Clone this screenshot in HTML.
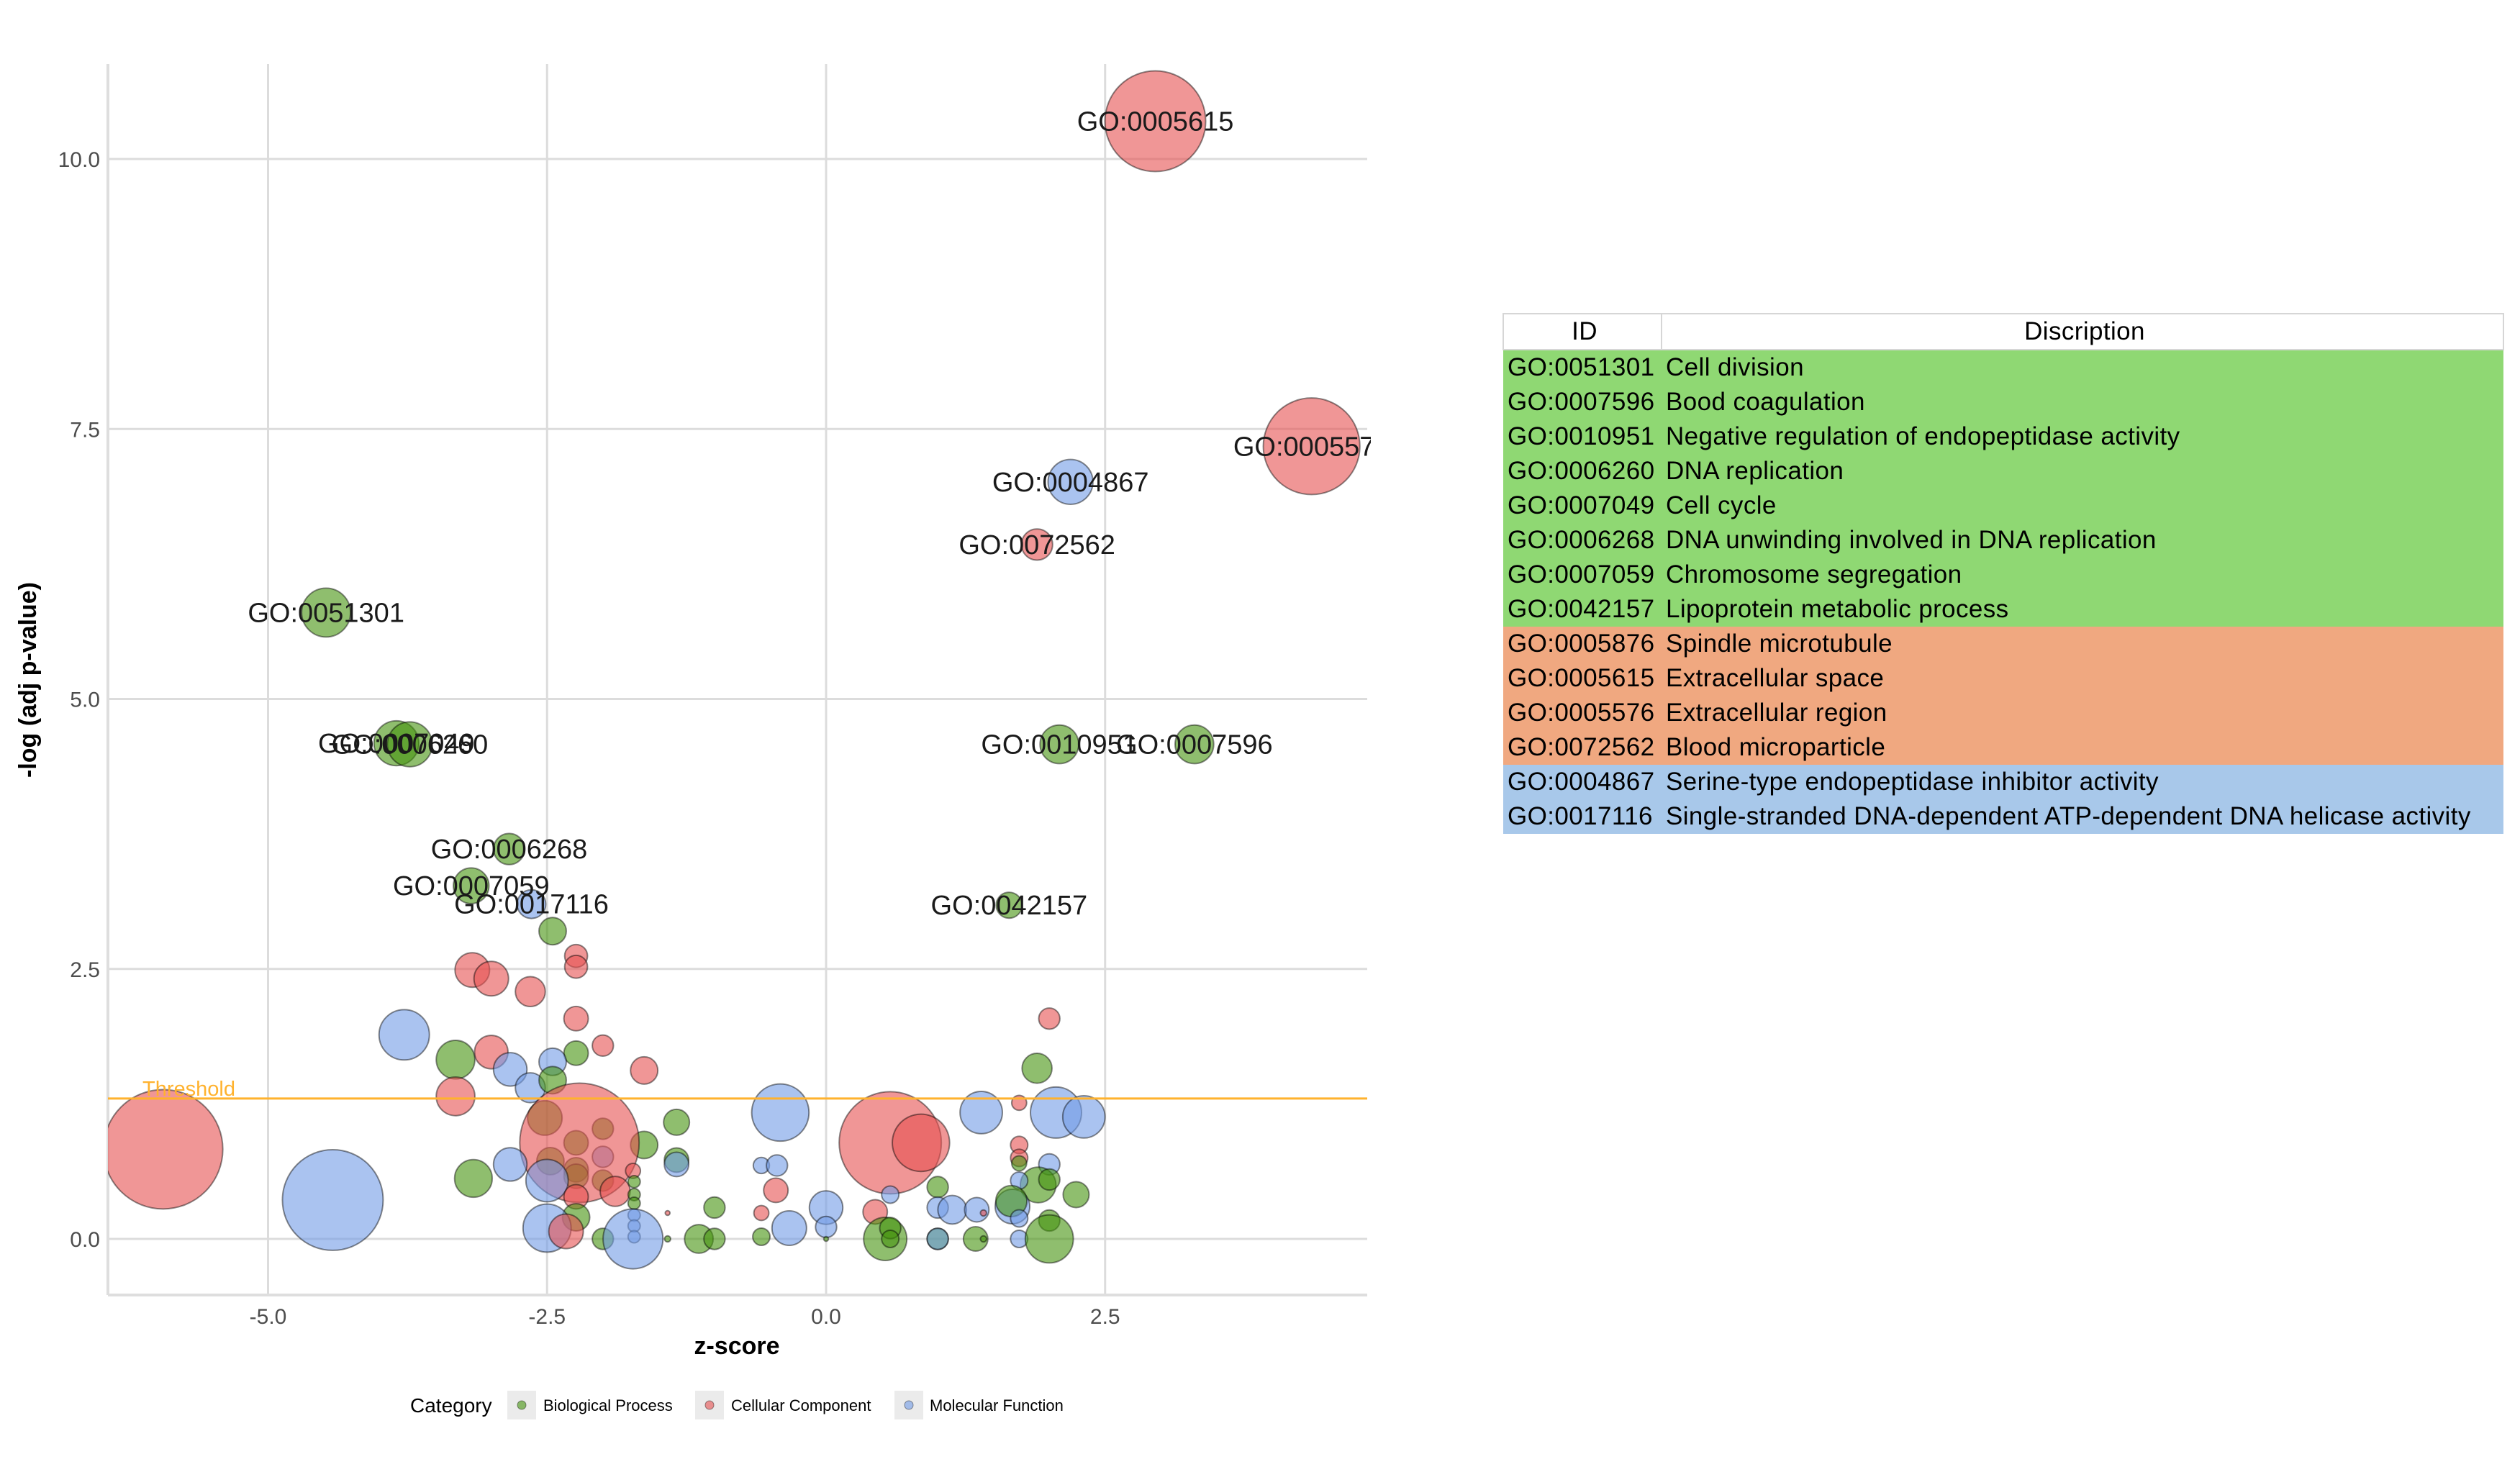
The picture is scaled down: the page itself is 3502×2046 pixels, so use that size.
<!DOCTYPE html>
<html><head><meta charset="utf-8">
<style>
html,body{margin:0;padding:0;background:#fff;}
body{width:3502px;height:2046px;position:relative;overflow:hidden;font-family:"Liberation Sans",sans-serif;}
#chart{position:absolute;left:0;top:0;}
#go-table{position:absolute;left:2088px;top:435px;width:1392px;border-collapse:collapse;font-family:"Liberation Sans Narrow","Liberation Sans",sans-serif;font-size:35px;letter-spacing:0.4px;color:#000;}
#go-table td,#go-table th{padding:0 0 0 6px;height:48px;line-height:48px;white-space:nowrap;text-align:left;font-weight:normal;}
#go-table th{background:#fff;border:2px solid #d6d6d6;text-align:center;height:46px;}
#go-table td.id{width:212px;}
tr.bp td{background:#8fd873;}
tr.cc td{background:#f0a880;}
tr.mf td{background:#a8c8ea;}
</style></head>
<body>
<svg id="chart" width="3502" height="2046" xmlns="http://www.w3.org/2000/svg">
  <defs><clipPath id="panel-clip"><rect x="150" y="89" width="1755" height="1711"/></clipPath></defs>
  <g id="grid"></g>
  <g id="axes"></g>
  <g clip-path="url(#panel-clip)">
    <g id="points"></g>
    <g id="labels"></g>
  </g>
  <text x="1024" y="1882" text-anchor="middle" font-size="34" font-weight="bold" fill="#000">z-score</text>
  <text transform="translate(50,945) rotate(-90)" text-anchor="middle" font-size="34" font-weight="bold" fill="#000">-log (adj p-value)</text>
  <g transform="translate(0,-5)">
    <text x="570" y="1968" font-size="28" fill="#000">Category</text>
    <rect x="705" y="1938" width="40" height="40" fill="#ebebeb"/>
    <circle cx="725" cy="1958" r="6" fill="#44930d" fill-opacity="0.6" stroke="#000" stroke-opacity="0.4"/>
    <text x="755" y="1966" font-size="22" fill="#000">Biological Process</text>
    <rect x="966" y="1938" width="40" height="40" fill="#ebebeb"/>
    <circle cx="986" cy="1958" r="6" fill="#e65050" fill-opacity="0.6" stroke="#000" stroke-opacity="0.4"/>
    <text x="1016" y="1966" font-size="22" fill="#000">Cellular Component</text>
    <rect x="1243" y="1938" width="40" height="40" fill="#ebebeb"/>
    <circle cx="1263" cy="1958" r="6" fill="#719be6" fill-opacity="0.6" stroke="#000" stroke-opacity="0.4"/>
    <text x="1292" y="1966" font-size="22" fill="#000">Molecular Function</text>
  </g>
</svg>

<table id="go-table">
  <tr><th style="width:212px">ID</th><th>Discription</th></tr>
  <tr class="bp"><td class="id">GO:0051301</td><td>Cell division</td></tr>
  <tr class="bp"><td class="id">GO:0007596</td><td>Bood coagulation</td></tr>
  <tr class="bp"><td class="id">GO:0010951</td><td>Negative regulation of endopeptidase activity</td></tr>
  <tr class="bp"><td class="id">GO:0006260</td><td>DNA replication</td></tr>
  <tr class="bp"><td class="id">GO:0007049</td><td>Cell cycle</td></tr>
  <tr class="bp"><td class="id">GO:0006268</td><td>DNA unwinding involved in DNA replication</td></tr>
  <tr class="bp"><td class="id">GO:0007059</td><td>Chromosome segregation</td></tr>
  <tr class="bp"><td class="id">GO:0042157</td><td>Lipoprotein metabolic process</td></tr>
  <tr class="cc"><td class="id">GO:0005876</td><td>Spindle microtubule</td></tr>
  <tr class="cc"><td class="id">GO:0005615</td><td>Extracellular space</td></tr>
  <tr class="cc"><td class="id">GO:0005576</td><td>Extracellular region</td></tr>
  <tr class="cc"><td class="id">GO:0072562</td><td>Blood microparticle</td></tr>
  <tr class="mf"><td class="id">GO:0004867</td><td>Serine-type endopeptidase inhibitor activity</td></tr>
  <tr class="mf"><td class="id">GO:0017116</td><td>Single-stranded DNA-dependent ATP-dependent DNA helicase activity</td></tr>
</table>

<script>
// labeled terms first (13), then unlabeled
const goLabels=["GO:0005615","GO:0005576","GO:0004867","GO:0072562","GO:0010951","GO:0007596","GO:0042157","GO:0051301","GO:0007049","GO:0006260","GO:0006268","GO:0007059","GO:0017116"];
const zScores=[2.95,4.35,2.19,1.89,2.09,3.30,1.64,-4.48,-3.85,-3.73,-2.84,-3.18,-2.64,
-5.94,-4.42,-3.78,-2.45,-2.24,-2.24,-3.17,-3.0,-2.65,-2.24,-2.0,-3.32,-3.0,-2.24,-2.45,-2.83,-1.63,-2.65,-2.45,-3.32,-2.52,-2.0,-2.24,-2.0,-2.47,-2.24,-2.24,-2.0,-1.63,-2.21,-1.34,-1.34,-1.34,-2.83,-3.16,-2.5,-1.73,-2.24,-1.89,-1.72,-1.72,-1.72,-1.72,-1.72,-1.72,-2.24,-2.5,-2.33,-2.0,-1.73,-1.42,-1.42,-1.14,-1.0,-1.0,-0.58,-0.44,-0.41,-0.45,-0.58,-0.58,-0.33,0,0,0,0.575,0.85,2.0,1.89,1.39,1.73,2.06,2.31,1.73,1.73,1.73,2.0,1.9,2.0,1.73,2.24,0.575,0.44,1.0,1.0,1.13,1.35,1.41,1.67,1.66,1.73,2.0,0.53,0.575,0.575,1.0,1.0,1.34,1.41,1.73,2.0];
const logP=[10.35,7.34,7.01,6.43,4.58,4.58,3.09,5.80,4.59,4.58,3.61,3.27,3.10,
0.83,0.36,1.89,2.85,2.62,2.52,2.49,2.41,2.29,2.04,1.79,1.66,1.73,1.72,1.64,1.57,1.56,1.40,1.47,1.32,1.12,1.02,0.89,0.76,0.72,0.64,0.58,0.54,0.87,0.89,1.08,0.73,0.69,0.69,0.56,0.54,0.63,0.39,0.44,0.53,0.41,0.33,0.22,0.12,0.02,0.20,0.10,0.07,0,0,0,0.24,0,0,0.29,0.68,0.68,1.17,0.45,0.24,0.02,0.10,0.29,0.11,0,0.89,0.89,2.04,1.58,1.17,1.26,1.17,1.13,0.87,0.75,0.70,0.69,0.5,0.55,0.54,0.41,0.41,0.25,0.48,0.29,0.27,0.27,0.24,0.30,0.35,0.19,0.17,0,0.10,0,0,0,0,0,0,0];
const geneCounts=[136,125,27,13,20,20,9,32,27,27,13,17,11,
191,136,34,10,7,7,16,16,12,8,6,20,15,8,10,15,10,12,10,20,16,6,8,6,10,8,8,6,10,191,9,8,8,15,19,24,3,8,12,2,2,2,2,2,2,10,31,16,6,48,0.5,0.3,11,6,6,3.5,6,44,8,3,4,16,15,6,0.3,140,44,6,12,24,3,35,24,4,4,3,6,17,6,4,9,4,8,6,6,11,8,0.5,16,13,4,6,25,6,4,6,6,8,0.5,4,31];
const categories=["C","C","M","C","B","B","B","B","B","B","B","B","M",
"C","M","M","B","C","C","C","C","C","C","C","B","C","B","M","M","C","M","B","C","B","B","B","M","B","B","B","B","B","C","B","B","M","M","B","M","C","C","C","B","B","B","M","M","M","B","M","C","B","M","B","C","B","B","B","M","M","M","C","C","B","M","M","M","B","C","C","C","B","M","C","M","M","C","C","B","M","B","B","M","B","M","C","B","M","M","M","C","M","B","M","B","B","B","B","B","M","B","B","M","B"];
const xTicks=[-5.0,-2.5,0.0,2.5];
const yTicks=[0.0,2.5,5.0,7.5,10.0];
const thresholdValue=[1.3];

const NS="http://www.w3.org/2000/svg";
const X0=1148, XU=155.1, Y0=1722, YU=150.1;
const PL=150, PR=1900, PT=89, PB=1800;
function xs(z){return X0+z*XU;}
function ys(v){return Y0-v*YU;}
function rs(c){return 6*Math.sqrt(c);}
const fills={B:"#44930d",C:"#e65050",M:"#719be6"};
function mk(tag,attrs,parent){const e=document.createElementNS(NS,tag);for(const k in attrs)e.setAttribute(k,attrs[k]);parent.appendChild(e);return e;}

const grid=document.getElementById('grid');
const axes=document.getElementById('axes');
xTicks.forEach(t=>{
  const l=mk('line',{x1:xs(t),x2:xs(t),y1:PT,y2:PB,stroke:'#dcdcdc','stroke-width':3},grid);
  
  
  const tx=mk('text',{x:xs(t),y:1840,'text-anchor':'middle','font-size':30,fill:'#4d4d4d'},axes);
  tx.textContent=t.toFixed(1);
  
  
});
yTicks.forEach(t=>{
  const l=mk('line',{x1:PL,x2:PR,y1:ys(t),y2:ys(t),stroke:'#dcdcdc','stroke-width':3},grid);
  
  
  const tx=mk('text',{x:139,y:ys(t)+11,'text-anchor':'end','font-size':30,fill:'#4d4d4d'},axes);
  tx.textContent=t.toFixed(1);
  
  
});
const al=mk('line',{x1:PL,x2:PL,y1:PT,y2:PB,stroke:'#dedede','stroke-width':4},axes);


const ab=mk('line',{x1:PL,x2:PR,y1:PB,y2:PB,stroke:'#dedede','stroke-width':4},axes);



const pts=document.getElementById('points');
zScores.forEach((z,i)=>{
  const c=mk('circle',{cx:xs(z),cy:ys(logP[i]),r:rs(geneCounts[i]),fill:fills[categories[i]],'fill-opacity':0.6,stroke:'#000','stroke-opacity':0.45,'stroke-width':2},pts);
  
  
});
const th=mk('line',{x1:PL,x2:PR,y1:ys(thresholdValue[0]),y2:ys(thresholdValue[0]),stroke:'#ffb22e','stroke-width':3},pts);


const tt=mk('text',{x:198,y:ys(thresholdValue[0])-4,'font-size':29,fill:'#ffb22e'},pts);
tt.textContent='Threshold';



const labs=document.getElementById('labels');
goLabels.forEach((g,i)=>{
  const t=mk('text',{x:xs(zScores[i]),y:ys(logP[i])+13,'text-anchor':'middle','font-size':38,fill:'#1a1a1a'},labs);
  t.textContent=g;
  
  
});
</script>
</body></html>
